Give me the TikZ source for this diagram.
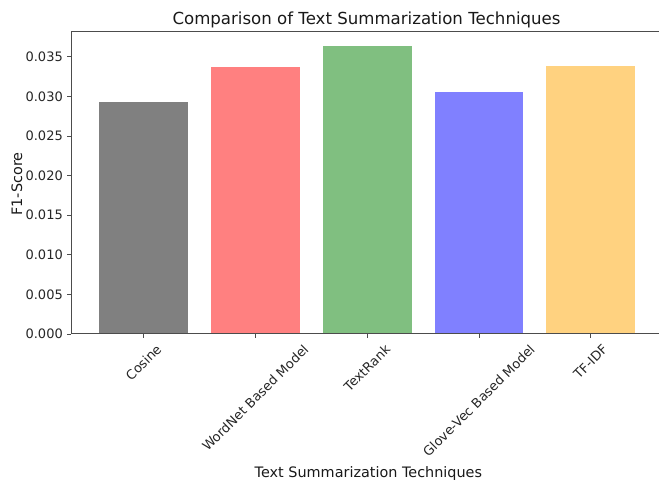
\documentclass[tikz,border=0pt]{standalone}
\usepackage{fontspec}
\setmainfont{DejaVu Sans}
\definecolor{cosgray}{HTML}{808080}
\definecolor{wnred}{HTML}{FF8080}
\definecolor{trgreen}{HTML}{80BF80}
\definecolor{gvblue}{HTML}{8080FF}
\definecolor{tforange}{HTML}{FFD280}
\begin{document}
\fontsize{13}{15}\selectfont
\begin{tikzpicture}[x=1pt, y=1pt,
    spine/.style={draw=black!70, line width=1pt},
    tickmark/.style={draw=black!70, line width=0.9pt},
    ticklabel/.style={inner sep=0pt, text=black!85, font=\fontsize{13}{15}\selectfont},
    xticklabel/.style={ticklabel, rotate=45, text height=12pt, text depth=3pt},
    axislabel/.style={inner sep=0pt, text=black!90, font=\fontsize{14.4}{17}\selectfont}]
    \useasboundingbox (0,0) rectangle (659,481);
    \foreach \i/\val/\col/\lab in {0/0.02933/cosgray/Cosine, 1/0.03367/wnred/WordNet Based Model, 2/0.03633/trgreen/TextRank, 3/0.03059/gvblue/Glove-Vec Based Model, 4/0.03384/tforange/TF-IDF} {
        \pgfmathsetmacro\cx{143.7+111.75*\i}
        \pgfmathsetmacro\w{width("\lab")}
        \fill[\col] (\cx-44.4,147) rectangle (\cx+44.4,{147+7920*\val});
        \draw[tickmark] (\cx,147) -- (\cx,143);
        \node[xticklabel] (xl\i) at (\cx,{139-(\w+15)/2.828}) {\lab};
    }
    \foreach \v/\t in {0/0.000, 1/0.005, 2/0.010, 3/0.015, 4/0.020, 5/0.025, 6/0.030, 7/0.035} {
        \draw[tickmark] (71,147+39.6*\v) -- (67,147+39.6*\v);
        \node[ticklabel, anchor=east] (yl\v) at (63,147+39.6*\v) {\t};
    }
    \draw[spine] (660,449) -- (71,449) -- (71,147) -- (660,147);
    \node[inner sep=0pt, text=black!90, font=\fontsize{16.6}{20}\selectfont, anchor=base] (title) at (366.5,456) {Comparison of Text Summarization Techniques};
    \node[axislabel, anchor=base] (xlabel) at (368.4,3) {Text Summarization Techniques};
    \node[axislabel, rotate=90, anchor=base] (ylabel) at (22,297) {F1-Score};
\end{tikzpicture}
\end{document}
